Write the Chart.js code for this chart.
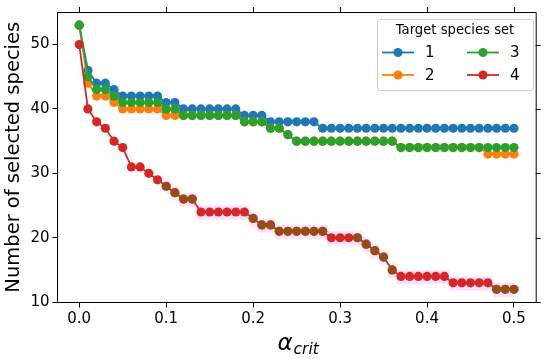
<!DOCTYPE html>
<html>
<head>
<meta charset="utf-8">
<script src="https://cdn.jsdelivr.net/npm/chart.js@4.4.0/dist/chart.umd.min.js"></script>
<style>
    html, body { margin: 0; padding: 0; background: #fff; }
    #wrap { width: 550px; height: 359px; }
</style>
</head>
<body>
<div id="wrap"><canvas id="chart" width="550" height="359"></canvas></div>
<script>
// alpha_crit values (x)
const alphaCrit = [0.00, 0.01, 0.02, 0.03, 0.04, 0.05, 0.06, 0.07, 0.08, 0.09,
                   0.10, 0.11, 0.12, 0.13, 0.14, 0.15, 0.16, 0.17, 0.18, 0.19,
                   0.20, 0.21, 0.22, 0.23, 0.24, 0.25, 0.26, 0.27, 0.28, 0.29,
                   0.30, 0.31, 0.32, 0.33, 0.34, 0.35, 0.36, 0.37, 0.38, 0.39,
                   0.40, 0.41, 0.42, 0.43, 0.44, 0.45, 0.46, 0.47, 0.48, 0.49, 0.50];

const set1 = [53, 46, 44, 44, 43, 42, 42, 42, 42, 42,
              41, 41, 40, 40, 40, 40, 40, 40, 40, 39,
              39, 39, 38, 38, 38, 38, 38, 38, 37, 37,
              37, 37, 37, 37, 37, 37, 37, 37, 37, 37,
              37, 37, 37, 37, 37, 37, 37, 37, 37, 37, 37];

const set2 = [53, 44, 42, 42, 41, 40, 40, 40, 40, 40,
              39, 39, 39, 39, 39, 39, 39, 39, 39, 38,
              38, 38, 37, 37, 36, 35, 35, 35, 35, 35,
              35, 35, 35, 35, 35, 35, 35, 34, 34, 34,
              34, 34, 34, 34, 34, 34, 34, 33, 33, 33, 33];

const set3 = [53, 45, 43, 43, 42, 41, 41, 41, 41, 41,
              40, 40, 39, 39, 39, 39, 39, 39, 39, 38,
              38, 38, 37, 37, 36, 35, 35, 35, 35, 35,
              35, 35, 35, 35, 35, 35, 35, 34, 34, 34,
              34, 34, 34, 34, 34, 34, 34, 34, 34, 34, 34];

const set4 = [50, 40, 38, 37, 35, 34, 31, 31, 30, 29,
              28, 27, 26, 26, 24, 24, 24, 24, 24, 24,
              23, 22, 22, 21, 21, 21, 21, 21, 21, 20,
              20, 20, 20, 19, 18, 17, 15, 14, 14, 14,
              14, 14, 14, 13, 13, 13, 13, 13, 12, 12, 12];

// darker overlay points sitting on top of set 4
const overlay = [null, null, null, null, null, null, null, null, null, null,
                 28, 27, 26, 26, null, null, null, null, null, null,
                 23, 22, 22, 21, 21, 21, 21, 21, 21, null,
                 null, null, 20, 19, 18, 17, 15, null, null, null,
                 null, null, null, null, null, null, null, null, 12, 12, 12];

// pink spread band around set 4
const bandHigh = [null, null, null, null, null, null, null, null, null, null,
                  29, 28, 27, 27, 25, 25, 25, 25, 25, 25,
                  24, 23, 23, 22, 22, 22, 22, 22, 22, 21,
                  21, 21, 21, 20, 19, 18, 16, 15, 15, 15,
                  15, 15, 15, 14, 14, 14, 14, 14, 13, 13, 13];
const bandLow = [null, null, null, null, null, null, null, null, null, null,
                 26.8, 25.8, 24.8, 24.8, 22.8, 22.8, 22.8, 22.8, 22.8, 22.8,
                 21.8, 20.8, 20.8, 19.8, 19.8, 19.8, 19.8, 19.8, 19.8, 18.8,
                 18.8, 18.8, 18.8, 17.8, 16.8, 15.8, 13.8, 12.8, 12.8, 12.8,
                 12.8, 12.8, 12.8, 11.8, 11.8, 11.8, 11.8, 11.8, 10.8, 10.8, 10.8];

const seriesNames = ['1', '2', '3', '4'];
const xTicks = [0.0, 0.1, 0.2, 0.3, 0.4, 0.5];
const yTicks = [10, 20, 30, 40, 50];

const COLORS = ['#1f77b4', '#ff7f0e', '#2ca02c', '#d62728'];
const FONT = '"DejaVu Sans", sans-serif';

const pts = arr => arr.map((v, i) => ({ x: alphaCrit[i], y: v }));

function series(label, data, color, order) {
    return {
        label,
        data: pts(data),
        borderColor: color,
        backgroundColor: color,
        borderWidth: 1.8,
        pointRadius: 4.6,
        pointBorderWidth: 0,
        pointHoverRadius: 4.6,
        order
    };
}

// spines + ticks on top/right, x title, legend
const extras = {
    id: 'extras',
    afterDraw(chart) {
        const { ctx, chartArea: a, scales: { x, y } } = chart;
        ctx.save();
        ctx.strokeStyle = '#000';
        ctx.lineWidth = 1;
        ctx.beginPath();
        ctx.moveTo(a.left, a.top + 0.5);
        ctx.lineTo(a.right + 0.5, a.top + 0.5);
        ctx.lineTo(a.right + 0.5, a.bottom);
        xTicks.forEach(v => {
            const px = Math.round(x.getPixelForValue(v)) + 0.5;
            ctx.moveTo(px, a.top);
            ctx.lineTo(px, a.top - 5);
        });
        yTicks.forEach(v => {
            const py = Math.round(y.getPixelForValue(v)) + 0.5;
            ctx.moveTo(a.right, py);
            ctx.lineTo(a.right + 5, py);
        });
        ctx.stroke();

        // x axis title: alpha_crit
        ctx.fillStyle = '#000';
        ctx.textBaseline = 'alphabetic';
        ctx.textAlign = 'left';
        ctx.font = 'italic 23px ' + FONT;
        const aw = ctx.measureText('α').width;
        ctx.font = 'italic 15.5px ' + FONT;
        const cw = ctx.measureText('crit').width;
        const x0 = (a.left + a.right) / 2 - (aw + cw) / 2 + 1;
        ctx.font = 'italic 23px ' + FONT;
        ctx.fillText('α', x0, 350);
        ctx.font = 'italic 15.5px ' + FONT;
        ctx.fillText('crit', x0 + aw + 1, 354);

        // legend
        const L = { x: 377, y: 19, w: 156, h: 71 };
        ctx.fillStyle = 'rgba(255,255,255,0.8)';
        ctx.strokeStyle = '#cccccc';
        ctx.beginPath();
        ctx.roundRect(L.x + 0.5, L.y + 0.5, L.w, L.h, 3);
        ctx.fill();
        ctx.stroke();
        ctx.fillStyle = '#000';
        ctx.textAlign = 'center';
        ctx.textBaseline = 'middle';
        ctx.font = '13.2px ' + FONT;
        ctx.fillText('Target species set', L.x + L.w / 2, 31);
        const slots = [
            { lx: 382, rowY: 52.5 }, { lx: 382, rowY: 75 },
            { lx: 467, rowY: 52.5 }, { lx: 467, rowY: 75 }
        ];
        seriesNames.forEach((name, i) => {
            const s = slots[i];
            ctx.strokeStyle = COLORS[i];
            ctx.lineWidth = 1.8;
            ctx.beginPath();
            ctx.moveTo(s.lx, s.rowY);
            ctx.lineTo(s.lx + 32, s.rowY);
            ctx.stroke();
            ctx.fillStyle = COLORS[i];
            ctx.beginPath();
            ctx.arc(s.lx + 16, s.rowY, 4.6, 0, Math.PI * 2);
            ctx.fill();
            ctx.fillStyle = '#000';
            ctx.font = '15px ' + FONT;
            ctx.textAlign = 'left';
            ctx.fillText(name, s.lx + 43, s.rowY + 1);
        });
        ctx.restore();
    }
};

new Chart(document.getElementById('chart').getContext('2d'), {
    type: 'line',
    data: {
        datasets: [
            series(seriesNames[0], set1, COLORS[0], 5),
            series(seriesNames[1], set2, COLORS[1], 4),
            series(seriesNames[2], set3, COLORS[2], 3),
            series(seriesNames[3], set4, COLORS[3], 2),
            {
                label: 'overlay',
                data: pts(overlay),
                borderColor: 'rgba(110,100,10,0.55)',
                backgroundColor: 'rgba(110,100,10,0.55)',
                borderWidth: 1.5,
                pointRadius: 4.6,
                pointBorderWidth: 0,
                spanGaps: false,
                order: 1
            },
            {
                label: 'bandHigh',
                data: pts(bandHigh),
                borderColor: 'transparent',
                pointRadius: 0,
                stepped: 'middle',
                fill: false,
                order: 7
            },
            {
                label: 'bandLow',
                data: pts(bandLow),
                borderColor: 'transparent',
                backgroundColor: 'rgba(255,0,255,0.12)',
                pointRadius: 0,
                stepped: 'middle',
                fill: '-1',
                order: 6
            }
        ]
    },
    options: {
        responsive: false,
        animation: false,
        devicePixelRatio: 1,
        layout: { padding: { left: 0, right: 14.3, top: 11, bottom: 0 } },
        plugins: {
            legend: { display: false },
            tooltip: { enabled: false }
        },
        scales: {
            x: {
                type: 'linear',
                min: -0.025,
                max: 0.525,
                afterBuildTicks: s => { s.ticks = xTicks.map(v => ({ value: v })); },
                afterFit: s => { s.height = 56.5; },
                grid: { drawOnChartArea: false, drawTicks: true, tickLength: 5, tickColor: '#000' },
                border: { display: true, color: '#000', width: 1 },
                ticks: {
                    color: '#000',
                    padding: 3,
                    maxRotation: 0,
                    font: { family: FONT, size: 15 },
                    callback: v => v.toFixed(1)
                }
            },
            y: {
                type: 'linear',
                min: 9.95,
                max: 55.05,
                afterBuildTicks: s => { s.ticks = yTicks.map(v => ({ value: v })); },
                afterFit: s => { s.width = 57.5; },
                grid: { drawOnChartArea: false, drawTicks: true, tickLength: 5, tickColor: '#000' },
                border: { display: true, color: '#000', width: 1 },
                ticks: {
                    color: '#000',
                    padding: 3,
                    font: { family: FONT, size: 15 }
                },
                title: {
                    display: true,
                    text: 'Number of selected species',
                    color: '#000',
                    font: { family: FONT, size: 19.5 },
                    padding: { top: 2, bottom: 0 }
                }
            }
        }
    },
    plugins: [extras]
});
</script>
</body>
</html>
